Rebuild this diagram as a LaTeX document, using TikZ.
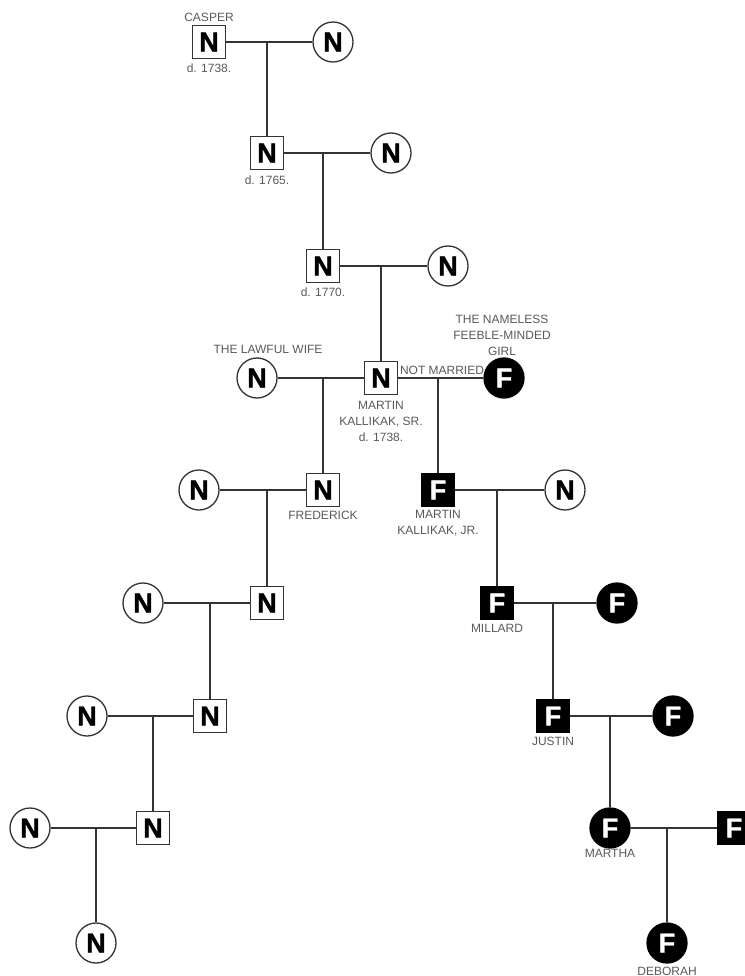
\documentclass[tikz,border=0pt]{standalone}
\usepackage{fontspec}
\setmainfont{Liberation Sans}
\newfontfamily\heavyfont[FakeBold=1.6]{Liberation Sans Bold}
\begin{document}
\begin{tikzpicture}[x=1pt,y=-1pt,
  sq/.style={draw=black!80,line width=1.3pt,fill=white,minimum size=33pt,inner sep=0pt,font=\fontsize{27}{27}\heavyfont},
  ci/.style={circle,draw=black!80,line width=1.3pt,fill=white,minimum size=40pt,inner sep=0pt,font=\fontsize{27}{27}\heavyfont},
  fsq/.style={sq,fill=black,draw=black,text=white},
  fci/.style={ci,fill=black,draw=black,text=white},
  lbl/.style={text=black!65,font=\fontsize{12}{16}\selectfont,align=center,inner sep=0pt},
  ln/.style={draw=black!80,line width=1.1pt}]
\useasboundingbox (0,0) rectangle (744,976);
% nodes
\node[sq] (casper) at (209,42) {N};
\node[ci] (w1) at (333,42) {N};
\node[sq] (g2) at (267,153) {N};
\node[ci] (w2) at (391,153) {N};
\node[sq] (g3) at (323,266) {N};
\node[ci] (w3) at (448,266) {N};
\node[sq] (sr) at (381,378) {N};
\node[ci] (lw) at (257,378) {N};
\node[fci] (fm) at (504,378) {F};
\node[sq] (fred) at (323,490) {N};
\node[ci] (w5) at (199,490) {N};
\node[fsq] (jr) at (438,490) {F};
\node[ci] (w7) at (565,490) {N};
\node[sq] (n6) at (267,603) {N};
\node[ci] (w8) at (143,603) {N};
\node[fsq] (mil) at (497,603) {F};
\node[fci] (w9) at (617,603) {F};
\node[sq] (n8) at (210,716) {N};
\node[ci] (w10) at (87,716) {N};
\node[fsq] (jus) at (553,716) {F};
\node[fci] (w11) at (673,716) {F};
\node[sq] (n10) at (153,828) {N};
\node[ci] (w12) at (30,828) {N};
\node[fci] (mar) at (610,828) {F};
\node[fsq] (hus) at (734,828) {F};
\node[ci] (last) at (96,943) {N};
\node[fci] (deb) at (667,943) {F};
% junctions
\coordinate (j1) at (g2 |- casper);
\coordinate (j2) at (g3 |- g2);
\coordinate (j3) at (sr |- g3);
\coordinate (j4) at (fred |- sr);
\coordinate (j5) at (jr |- sr);
\coordinate (j6) at (n6 |- fred);
\coordinate (j7) at (mil |- jr);
\coordinate (j8) at (n8 |- n6);
\coordinate (j9) at (jus |- mil);
\coordinate (j10) at (n10 |- n8);
\coordinate (j11) at (mar |- jus);
\coordinate (j12) at (last |- n10);
\coordinate (j13) at (deb |- mar);
% marriage lines
\draw[ln] (casper) -- (w1);
\draw[ln] (g2) -- (w2);
\draw[ln] (g3) -- (w3);
\draw[ln] (lw) -- (sr);
\draw[ln] (sr) -- (fm);
\draw[ln] (w5) -- (fred);
\draw[ln] (jr) -- (w7);
\draw[ln] (w8) -- (n6);
\draw[ln] (mil) -- (w9);
\draw[ln] (w10) -- (n8);
\draw[ln] (jus) -- (w11);
\draw[ln] (w12) -- (n10);
\draw[ln] (mar) -- (hus);
% descent lines
\draw[ln] (j1) -- (g2);
\draw[ln] (j2) -- (g3);
\draw[ln] (j3) -- (sr);
\draw[ln] (j4) -- (fred);
\draw[ln] (j5) -- (jr);
\draw[ln] (j6) -- (n6);
\draw[ln] (j7) -- (mil);
\draw[ln] (j8) -- (n8);
\draw[ln] (j9) -- (jus);
\draw[ln] (j10) -- (n10);
\draw[ln] (j11) -- (mar);
\draw[ln] (j12) -- (last);
\draw[ln] (j13) -- (deb);
% labels
\node[lbl] (lcasper) at (209,17) {CASPER};
\node[lbl] (d1) at (209,68) {d. 1738.};
\node[lbl] (d2) at (267,180) {d. 1765.};
\node[lbl] (d3) at (323,292) {d. 1770.};
\node[lbl] (llw) at (268,349) {THE LAWFUL WIFE};
\node[lbl] (lfm) at (502,335) {THE NAMELESS\\FEEBLE-MINDED\\GIRL};
\node[lbl] (lnm) at (442,370) {NOT MARRIED};
\node[lbl] (lsr) at (381,421) {MARTIN\\KALLIKAK, SR.\\d. 1738.};
\node[lbl] (lfred) at (323,515) {FREDERICK};
\node[lbl] (ljr) at (438,523) {MARTIN\\KALLIKAK, JR.};
\node[lbl] (lmil) at (497,628) {MILLARD};
\node[lbl] (ljus) at (553,741) {JUSTIN};
\node[lbl] (lmar) at (610,853) {MARTHA};
\node[lbl] (ldeb) at (667,971) {DEBORAH};
\end{tikzpicture}
\end{document}
